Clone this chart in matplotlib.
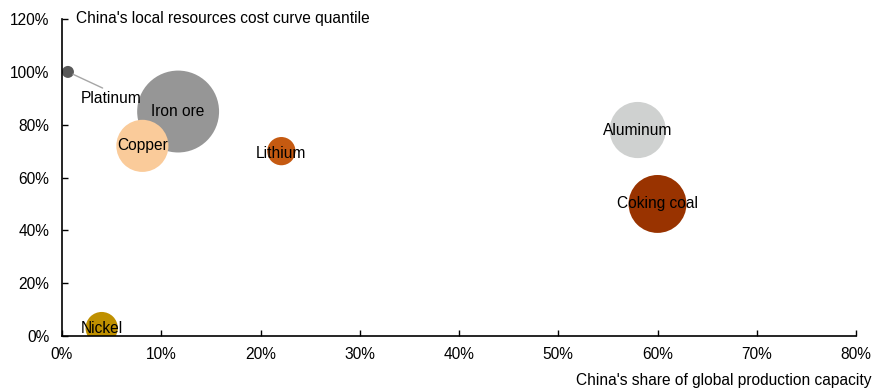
import matplotlib.pyplot as plt
from matplotlib.ticker import PercentFormatter

plt.rcParams['font.family'] = ['Liberation Sans', 'DejaVu Sans']

# commodities: China's share of capacity (x, %), cost curve quantile (y, %), bubble size
names = ['Platinum', 'Iron ore', 'Copper', 'Lithium', 'Nickel', 'Aluminum', 'Coking coal']
share = [0.6, 11.7, 8.1, 22.1, 4.0, 58.0, 60.0]
quantile = [100, 85, 72, 70, 3, 78, 50]
size = [36, 1680, 680, 200, 260, 790, 840]
colors = ['#595959', '#969696', '#FACB9A', '#C55A11', '#BF9000', '#CFD1D0', '#993300']

FS = 11.2

fig = plt.figure(figsize=(8.78, 3.9), dpi=100)
ax = fig.add_axes([0.0706, 0.1385, 0.9044, 0.8125])

ax.scatter(share, quantile, s=[v * 2.07 for v in size], c=colors,
           edgecolors='none', zorder=2)

ax.set_xlim(0, 80)
ax.set_ylim(0, 120)
ax.set_xticks(range(0, 81, 10))
ax.set_yticks(range(0, 121, 20))
ax.xaxis.set_major_formatter(PercentFormatter(decimals=0))
ax.yaxis.set_major_formatter(PercentFormatter(decimals=0))
ax.tick_params(direction='in', length=4, width=1, labelsize=FS, colors='black')
ax.tick_params(axis='x', pad=8)
ax.tick_params(axis='y', pad=9)
for side in ['top', 'right']:
    ax.spines[side].set_visible(False)
for side in ['left', 'bottom']:
    ax.spines[side].set_linewidth(1.2)
    ax.spines[side].set_zorder(3)

# bubble labels, centred on the bubbles except Platinum
for n, x, y in zip(names, share, quantile):
    if n == 'Platinum':
        continue
    dy = -1 if n == 'Lithium' else 0
    ax.text(x, y + dy, n, ha='center', va='center', fontsize=FS, zorder=4)

ax.annotate('Platinum', xy=(share[0], quantile[0]), xytext=(5.0, 90.0),
            ha='center', va='center', fontsize=FS,
            arrowprops=dict(arrowstyle='-', color='#A6A6A6', lw=1,
                            shrinkA=0, shrinkB=4, relpos=(0.45, 1.0)))

fig.text(76 / 878, 1 - 18 / 390, "China's local resources cost curve quantile",
         ha='left', va='center', fontsize=FS)
fig.text(872 / 878, 1 - 381 / 390, "China's share of global production capacity",
         ha='right', va='center', fontsize=FS)

fig.savefig('out.png', dpi=100)
